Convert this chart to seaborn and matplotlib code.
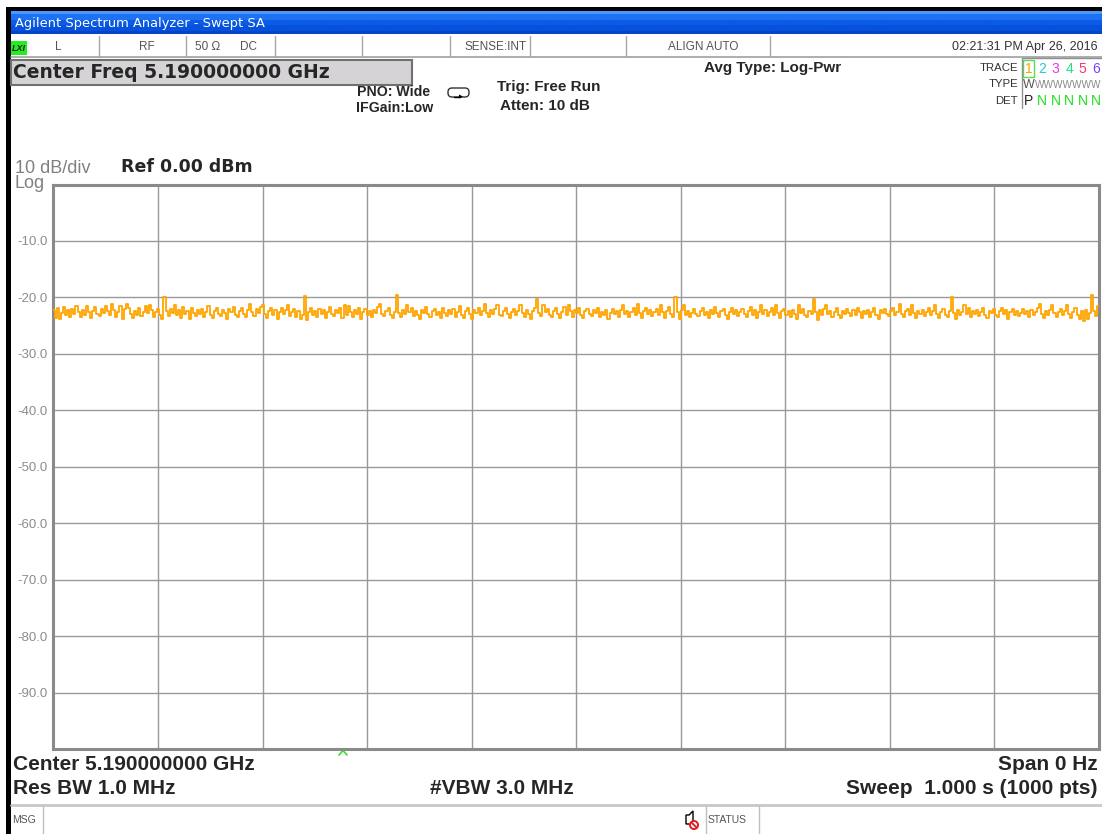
import numpy as np
import pandas as pd
import seaborn as sns
import matplotlib
matplotlib.use("Agg")
import matplotlib.pyplot as plt
from matplotlib.patches import Rectangle, FancyBboxPatch, Circle, Polygon

# ---------------- data (one value per 2 sweep points) ----------------
trace_dbm = [
    -22.2, -23.7, -21.8, -23.9, -22.8, -21.7, -23.2, -22.2, -23.4, -22.0,
    -23.0, -21.6, -22.6, -23.5, -22.2, -23.2, -21.6, -22.6, -23.6, -22.4,
    -21.7, -23.0, -23.3, -22.0, -22.8, -21.5, -22.4, -23.2, -21.1, -22.2,
    -23.5, -22.6, -21.6, -23.8, -22.0, -21.2, -21.8, -23.0, -23.7, -22.4,
    -23.2, -21.8, -23.3, -22.6, -21.6, -22.8, -21.3, -22.2, -23.4, -22.6,
    -22.0, -23.2, -23.9, -19.9, -22.4, -23.3, -22.0, -22.8, -21.3, -23.2,
    -22.2, -23.6, -21.7, -23.0, -22.4, -23.8, -21.8, -22.8, -23.3, -22.2,
    -23.0, -22.0, -23.5, -22.6, -21.6, -23.2, -23.7, -22.4, -21.8, -23.0,
    -23.3, -22.2, -22.8, -23.9, -22.0, -22.6, -21.7, -23.2, -23.5, -22.4,
    -21.8, -23.0, -23.4, -22.2, -21.2, -22.6, -23.3, -22.0, -22.8, -21.7,
    -21.3, -23.0, -23.6, -22.4, -21.8, -23.2, -22.2, -23.8, -22.6, -21.8,
    -23.0, -22.2, -21.3, -23.3, -22.6, -22.0, -23.5, -22.4, -23.9, -23.2,
    -19.7, -24.0, -22.6, -21.8, -23.2, -22.4, -23.4, -22.0, -23.0, -22.2,
    -23.6, -22.6, -21.7, -23.0, -23.3, -22.2, -22.8, -21.8, -23.7, -21.3,
    -23.2, -21.5, -22.6, -23.4, -22.2, -23.0, -21.8, -23.8, -22.6, -22.0,
    -23.2, -22.4, -23.5, -22.2, -22.8, -21.7, -21.2, -23.0, -23.3, -22.4,
    -21.8, -23.2, -23.7, -22.6, -19.5, -22.8, -23.4, -22.2, -23.0, -21.3,
    -22.6, -21.8, -23.3, -22.4, -23.2, -23.9, -22.2, -22.8, -21.7, -23.0,
    -23.5, -22.4, -22.0, -23.2, -22.6, -23.7, -21.8, -22.8, -23.3, -22.2,
    -23.0, -22.0, -23.4, -22.6, -21.6, -23.2, -23.6, -22.4, -21.8, -23.0,
    -23.8, -22.2, -22.8, -21.8, -23.2, -22.4, -21.2, -22.8, -23.5, -22.2,
    -23.0, -22.0, -21.3, -23.2, -23.3, -22.4, -21.8, -23.0, -23.7, -22.6,
    -22.0, -23.2, -22.4, -21.3, -22.8, -23.4, -22.2, -23.0, -23.9, -22.4,
    -21.8, -20.3, -22.8, -23.3, -21.4, -22.6, -22.0, -23.2, -23.5, -22.4,
    -21.8, -23.0, -23.6, -22.6, -21.7, -23.2, -21.3, -22.4, -23.4, -22.2,
    -22.8, -21.8, -23.2, -23.7, -22.4, -22.0, -23.0, -23.3, -22.2, -22.8,
    -21.8, -23.5, -22.6, -23.2, -22.2, -23.8, -22.8, -22.0, -23.0, -22.4,
    -23.4, -22.2, -21.3, -23.0, -22.4, -23.5, -22.6, -21.8, -23.2, -21.2,
    -22.8, -23.6, -22.4, -21.8, -23.0, -22.2, -23.3, -22.6, -22.0, -23.2,
    -21.3, -22.6, -23.7, -22.4, -21.7, -23.0, -23.4, -20.0, -22.6, -23.8,
    -22.2, -21.4, -23.2, -22.4, -23.5, -22.8, -22.0, -23.0, -23.3, -22.4,
    -21.8, -23.2, -22.6, -23.6, -22.2, -23.0, -21.7, -22.8, -23.4, -22.4,
    -22.0, -23.2, -23.8, -22.6, -21.8, -23.0, -22.2, -23.3, -22.6, -22.0,
    -23.0, -23.5, -22.4, -21.7, -23.2, -22.2, -23.6, -22.6, -21.3, -23.0,
    -22.2, -23.3, -22.6, -21.8, -23.2, -21.3, -22.8, -23.7, -22.4, -22.0,
    -23.2, -22.4, -23.4, -22.2, -23.0, -23.9, -21.3, -22.8, -22.0, -23.2,
    -23.5, -22.4, -23.0, -20.2, -22.6, -24.0, -22.2, -23.2, -22.0, -21.4,
    -23.0, -22.4, -23.5, -22.6, -21.8, -23.2, -23.7, -22.4, -23.0, -22.0,
    -22.8, -23.3, -22.2, -23.2, -21.8, -22.6, -23.6, -22.4, -23.0, -22.2,
    -23.4, -22.6, -21.8, -23.2, -23.8, -22.2, -22.8, -22.0, -23.0, -23.3,
    -22.4, -21.8, -23.2, -22.6, -21.2, -23.0, -23.5, -22.4, -22.0, -23.2,
    -21.4, -22.8, -23.6, -22.4, -23.0, -22.2, -23.3, -22.6, -21.8, -23.2,
    -22.4, -21.3, -23.0, -23.7, -22.6, -22.0, -23.2, -23.4, -22.4, -20.0,
    -22.8, -23.9, -22.2, -23.2, -22.6, -21.3, -23.0, -21.8, -23.5, -22.4,
    -23.0, -22.2, -23.3, -22.6, -21.8, -23.2, -23.6, -22.4, -22.8, -22.0,
    -23.2, -23.4, -22.4, -21.8, -23.0, -22.2, -23.8, -22.6, -22.0, -23.2,
    -22.4, -23.3, -22.8, -22.0, -23.0, -22.4, -23.5, -22.2, -23.2, -22.6,
    -21.8, -21.2, -23.0, -23.6, -22.4, -23.2, -22.2, -21.4, -22.8, -23.4,
    -22.6, -22.0, -23.2, -22.4, -21.3, -23.0, -23.7, -22.6, -21.8, -23.2,
    -23.8, -22.4, -24.1, -22.2, -23.9, -22.8, -19.6, -22.4, -23.3, -21.6,
]
sweep_time_s = 1.0
y_ticks = [-10, -20, -30, -40, -50, -60, -70, -80, -90]
y_tick_labels = ["-10.0", "-20.0", "-30.0", "-40.0", "-50.0",
                 "-60.0", "-70.0", "-80.0", "-90.0"]
trace_numbers = ["1", "2", "3", "4", "5", "6"]
trace_colors = ["#FFA000", "#22CCE0", "#EE33EE", "#22E08A", "#FF3366", "#7744FF"]
det_letters = ["P", "N", "N", "N", "N", "N"]

# ---------------- figure ----------------
sns.set_style("white")
plt.rcParams["font.family"] = ["DejaVu Sans"]

W, H = 1102, 834
fig = plt.figure(figsize=(W / 100, H / 100), dpi=100)
fig.patch.set_facecolor("white")

bg = fig.add_axes([0, 0, 1, 1])
bg.set_xlim(0, W)
bg.set_ylim(H, 0)
bg.axis("off")

ARIAL = "Liberation Sans"

# black window frame
bg.add_patch(Rectangle((6, 7), W - 6, 4, color="black", lw=0))
bg.add_patch(Rectangle((6, 7), 4.5, H - 7, color="black", lw=0))

# blue title bar with vertical gradient
stops = np.array([[0x4A, 0x98, 0xFF], [0x1E, 0x72, 0xF2], [0x0A, 0x5C, 0xE6],
                  [0x06, 0x52, 0xDC], [0x03, 0x44, 0xC8]]) / 255.0
grad = np.array([stops[int(round(k))] for k in np.linspace(0, 4, 23)])
bg.imshow(grad[:, None, :], extent=[10.5, W, 34, 11], aspect="auto",
          interpolation="bilinear", zorder=1)
bg.set_xlim(0, W)
bg.set_ylim(H, 0)
bg.text(15, 23, "Agilent Spectrum Analyzer - Swept SA", color="white",
        fontsize=9.4, va="center", ha="left", zorder=3)

# status row
bg.plot([10.5, W], [57, 57], color="#a0a0a0", lw=1.2)
for xs in [99, 186, 275, 362, 450, 530, 626, 770]:
    bg.plot([xs, xs], [36, 57], color="#a8a8a8", lw=1.0)
bg.add_patch(Rectangle((11, 41), 16, 14, color="#22EE22", lw=0))
bg.text(19, 48, "LXI", fontsize=6.5, fontweight="bold", style="italic",
        ha="center", va="center", family=ARIAL)
stat_kw = dict(fontsize=8.5, color="#555555", va="center", family=ARIAL)
bg.text(55, 47, "L", ha="left", **stat_kw)
bg.text(139, 47, "RF", ha="left", **stat_kw)
bg.text(195, 47, "50 \u03a9", ha="left", **stat_kw)
bg.text(240, 47, "DC", ha="left", **stat_kw)
bg.text(496, 47, "SENSE:INT", ha="center", **stat_kw)
bg.text(703, 47, "ALIGN AUTO", ha="center", **stat_kw)
bg.text(1098, 47, "02:21:31 PM Apr 26, 2016", ha="right", fontsize=9,
        color="#333333", va="center", family=ARIAL)

# Center Freq box
bg.add_patch(Rectangle((10.5, 60), 401, 25, facecolor="#D6D3D6",
                       edgecolor="#707070", lw=1.5))
bg.text(13, 72.5, "Center Freq 5.190000000 GHz", fontsize=13.5,
        fontweight="bold", va="center", ha="left")

# acquisition settings
set_kw = dict(fontweight="bold", va="center", ha="left", family=ARIAL)
bg.text(357, 92, "PNO: Wide", fontsize=10.2, **set_kw)
bg.text(356, 108, "IFGain:Low", fontsize=10.2, **set_kw)
bg.text(497, 87, "Trig: Free Run", fontsize=11, **set_kw)
bg.text(500, 106, "Atten: 10 dB", fontsize=11, **set_kw)
bg.text(704, 68, "Avg Type: Log-Pwr", fontsize=11, **set_kw)
# trigger icon
bg.add_patch(FancyBboxPatch((448, 88), 21, 9, boxstyle="round,pad=0,rounding_size=4",
                            facecolor="white", edgecolor="#333333", lw=1.0))
bg.plot([454, 460], [96.5, 96.5], color="black", lw=1.0)
bg.add_patch(Polygon([[459, 94.5], [463, 96.5], [459, 98.5]], closed=True,
                     color="black", lw=0))

# trace panel
lab_kw = dict(fontsize=8.2, color="#333333", va="center", ha="right", family=ARIAL)
bg.text(1018, 68, "TRACE", **lab_kw)
bg.text(1018, 84, "TYPE", **lab_kw)
bg.text(1018, 101, "DET", **lab_kw)
bg.plot([1022, 1022], [58, 108], color="#909090", lw=1.0)
bg.plot([1022, W], [58, 58], color="#909090", lw=1.0)
bg.add_patch(Rectangle((1023, 60), 11, 17, facecolor="none",
                       edgecolor="#55DD55", lw=1.0))
num_x = [1028.5, 1042, 1055.5, 1069, 1082.5, 1096]
for xx, num, col in zip(num_x, trace_numbers, trace_colors):
    bg.text(xx, 69, num, fontsize=10, color=col, ha="center", va="center",
            family=ARIAL)
bg.text(1028.5, 85, "W", fontsize=9, color="#555555", ha="center", va="center",
        family=ARIAL)
bg.text(1035, 85, "WWWWWWW", fontsize=7.2, color="#8a8a8a", ha="left",
        va="center", family=ARIAL)
for xx, letter in zip(num_x, det_letters):
    bg.text(xx, 101, letter, fontsize=10,
            color="#222222" if letter == "P" else "#22DD22",
            ha="center", va="center", family=ARIAL)

# scale annotations
bg.text(15, 168, "10 dB/div", fontsize=13, color="#808080", va="center",
        ha="left", family=ARIAL)
bg.text(15, 183, "Log", fontsize=13, color="#808080", va="center",
        ha="left", family=ARIAL)
bg.text(121, 167, "Ref 0.00 dBm", fontsize=12.5, fontweight="bold",
        va="center", ha="left")

# bottom annotations
bot_kw = dict(fontsize=15, fontweight="bold", va="center", family=ARIAL)
bg.text(13, 764, "Center 5.190000000 GHz", ha="left", **bot_kw)
bg.text(1098, 764, "Span 0 Hz", ha="right", **bot_kw)
bg.text(13, 788, "Res BW 1.0 MHz", ha="left", **bot_kw)
bg.text(430, 788, "#VBW 3.0 MHz", ha="left", **bot_kw)
bg.text(1098, 788, "Sweep  1.000 s (1000 pts)", ha="right", **bot_kw)

# trigger marker
bg.plot([339, 343, 347], [755, 750.5, 755], color="#33DD33", lw=1.2)

# message / status bar
bg.plot([10.5, W], [805, 805], color="#c8c8c8", lw=2.0)
for xs in [43, 706, 759]:
    bg.plot([xs, xs], [806, H], color="#c0c0c0", lw=1.0)
bg.text(12, 820, "MSG", fontsize=7.5, color="#555555", va="center", ha="left",
        family=ARIAL)
bg.text(708, 820, "STATUS", fontsize=7.5, color="#555555", va="center",
        ha="left", family=ARIAL)
bg.add_patch(Polygon([[686, 815], [689, 815], [693, 811], [693, 828], [689, 824],
                      [686, 824]], closed=True, facecolor="white",
                     edgecolor="black", lw=1.0))
bg.add_patch(Circle((694, 825), 5, facecolor="#E02020", edgecolor="none"))
bg.add_patch(Circle((694, 825), 3, facecolor="white", edgecolor="none"))
bg.plot([691.5, 696.5], [822.5, 827.5], color="#E02020", lw=1.4)

# ---------------- main graticule ----------------
ax = fig.add_axes([53.5 / W, 1 - 749 / H, 1045 / W, 564.5 / H])
df = pd.DataFrame({
    "time_s": np.linspace(0, sweep_time_s, len(trace_dbm)),
    "dBm": trace_dbm,
})
sns.lineplot(data=df, x="time_s", y="dBm", ax=ax, color="#FFA500",
             linewidth=1.3, drawstyle="steps-mid", zorder=3)
ax.set_xlim(0, sweep_time_s)
ax.set_ylim(-100, 0)
ax.set_xticks(np.linspace(0, sweep_time_s, 11))
ax.set_xticklabels([])
ax.set_yticks(y_ticks)
ax.set_yticklabels(y_tick_labels, color="#8c8c8c", fontsize=9.5, family=ARIAL)
ax.tick_params(length=0, pad=4)
ax.grid(True, color="#999999", linewidth=1.0)
ax.set_axisbelow(True)
ax.set_xlabel("")
ax.set_ylabel("")
for sp in ax.spines.values():
    sp.set_visible(True)
    sp.set_color("#8a8a8a")
    sp.set_linewidth(2.2)

fig.savefig("out.png", dpi=100)
